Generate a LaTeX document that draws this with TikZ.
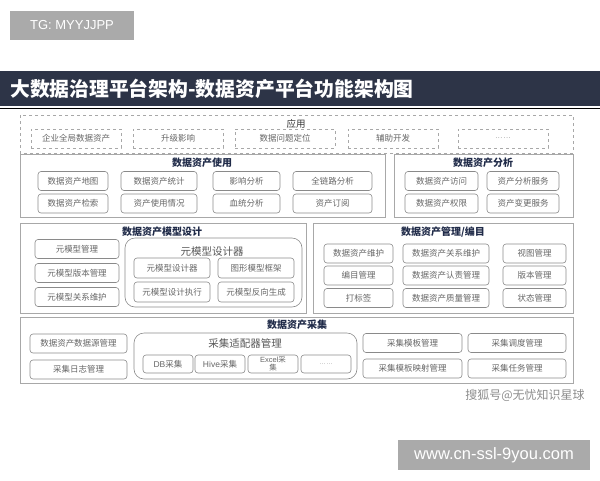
\documentclass[tikz,border=0pt]{standalone}
\usepackage{fontspec}
\setmainfont{Noto Sans CJK SC}
\newfontfamily\latinfont{Liberation Sans}
\usetikzlibrary{positioning}

\definecolor{barnavy}{HTML}{2D3447}
\definecolor{titlenavy}{HTML}{1F2A48}
\definecolor{framegray}{HTML}{A8A8A8}
\definecolor{itemgray}{HTML}{8A8A8A}
\definecolor{labelgray}{HTML}{666666}
\definecolor{markgray}{HTML}{AAAAAA}

\tikzset{
  layer/.style={draw=framegray, line width=0.7pt},
  layertitle/.style={font=\fontsize{10}{12}\selectfont\bfseries, text=titlenavy, inner sep=0pt},
  item/.style={draw=itemgray, rounded corners=3pt, line width=0.6pt, text=labelgray,
    font=\fontsize{8.5}{10}\selectfont, inner sep=0pt, minimum height=19pt},
  appitem/.style={item, dashed, draw=framegray, rounded corners=0pt},
  group/.style={draw=itemgray, rounded corners=10pt, line width=0.6pt},
  grouptitle/.style={font=\fontsize{10.5}{12}\selectfont, text=labelgray!85!black, inner sep=0pt},
  markbox/.style={fill=markgray, text=white, inner sep=0pt}
}

\begin{document}
\begin{tikzpicture}[x=1pt, y=-1pt]
  \useasboundingbox (0,0) rectangle (600,480);

  % marks
  \node[markbox, minimum width=124pt, minimum height=29pt,
    font=\latinfont\fontsize{13}{15}\selectfont] (tg) at (72,25.5) {TG: MYYJJPP};

  % title bar
  \fill[barnavy] (0,71) rectangle (600,106);
  \draw[black, line width=1.5pt] (0,108.5) -- (600,108.5);
  \node[anchor=west, text=white, font=\fontsize{19.8}{22}\selectfont\bfseries, inner sep=0pt]
    (heading) at (10,88.5) {大数据治理平台架构-数据资产平台功能架构图};

  % application
  \draw[layer, dashed] (20,115) rectangle (573,153);
  \node[font=\fontsize{9.5}{11}\selectfont, text=black!80, inner sep=0pt] (apptitle) at (296,124) {应用};
  \node[appitem, minimum width=90pt]  (app1) at (76,138.5)  {企业全局数据资产};
  \node[appitem, minimum width=90pt]  (app2) at (178,138.5) {升级影响};
  \node[appitem, minimum width=100pt] (app3) at (285,138.5) {数据问题定位};
  \node[appitem, minimum width=90pt]  (app4) at (393,138.5) {辅助开发};
  \node[appitem, minimum width=90pt, font=\fontsize{6.5}{8}\selectfont] (app5) at (503,138.5) {… …};

  % asset use
  \draw[layer] (20,154) rectangle (385,217);
  \node[layertitle] (usetitle) at (202,163) {数据资产使用};
  \node[item, minimum width=70pt] (use1) at (73,181)    {数据资产地图};
  \node[item, minimum width=76pt] (use2) at (159,181)   {数据资产统计};
  \node[item, minimum width=67pt] (use3) at (246.5,181) {影响分析};
  \node[item, minimum width=79pt] (use4) at (332.5,181) {全链路分析};
  \node[item, minimum width=70pt] (use5) at (73,203.5)    {数据资产检索};
  \node[item, minimum width=76pt] (use6) at (159,203.5)   {资产使用情况};
  \node[item, minimum width=67pt] (use7) at (246.5,203.5) {血统分析};
  \node[item, minimum width=79pt] (use8) at (332.5,203.5) {资产订阅};

  % asset analysis
  \draw[layer] (394,154) rectangle (573,217);
  \node[layertitle] (anatitle) at (483,163) {数据资产分析};
  \node[item, minimum width=73pt] (ana1) at (441.5,181)   {数据资产访问};
  \node[item, minimum width=72pt] (ana2) at (523,181)     {资产分析服务};
  \node[item, minimum width=73pt] (ana3) at (441.5,203.5) {数据资产权限};
  \node[item, minimum width=72pt] (ana4) at (523,203.5)   {资产变更服务};

  % model design
  \draw[layer] (20,223) rectangle (306,313);
  \node[layertitle] (modtitle) at (162,232) {数据资产模型设计};
  \node[item, minimum width=84pt] (mod1) at (77,249) {元模型管理};
  \node[item, minimum width=84pt] (mod2) at (77,273) {元模型版本管理};
  \node[item, minimum width=84pt] (mod3) at (77,297) {元模型关系维护};
  \draw[group] (125,238) rectangle (302,307);
  \node[grouptitle] (designer) at (212,252) {元模型设计器};
  \node[item, minimum width=76pt, minimum height=20pt] (des1) at (172,268) {元模型设计器};
  \node[item, minimum width=76pt, minimum height=20pt] (des2) at (256,268) {图形模型框架};
  \node[item, minimum width=76pt, minimum height=20pt] (des3) at (172,292) {元模型设计执行};
  \node[item, minimum width=76pt, minimum height=20pt] (des4) at (256,292) {元模型反向生成};

  % management / catalogue
  \draw[layer] (313,223) rectangle (573,313);
  \node[layertitle] (mgttitle) at (443,232) {数据资产管理/编目};
  \node[item, minimum width=69pt] (mgt1) at (358.5,253.5) {数据资产维护};
  \node[item, minimum width=86pt] (mgt2) at (446,253.5)   {数据资产关系维护};
  \node[item, minimum width=63pt] (mgt3) at (534.5,253.5) {视图管理};
  \node[item, minimum width=69pt] (mgt4) at (358.5,275.5) {编目管理};
  \node[item, minimum width=86pt] (mgt5) at (446,275.5)   {数据资产认责管理};
  \node[item, minimum width=63pt] (mgt6) at (534.5,275.5) {版本管理};
  \node[item, minimum width=69pt] (mgt7) at (358.5,298) {打标签};
  \node[item, minimum width=86pt] (mgt8) at (446,298)   {数据资产质量管理};
  \node[item, minimum width=63pt] (mgt9) at (534.5,298) {状态管理};

  % collection
  \draw[layer] (20,317) rectangle (573,383);
  \node[layertitle] (coltitle) at (297,325) {数据资产采集};
  \node[item, minimum width=97pt] (col1) at (78.5,343.5) {数据资产数据源管理};
  \node[item, minimum width=97pt] (col2) at (78.5,369.5) {采集日志管理};
  \draw[group] (134,333) rectangle (357,379);
  \node[grouptitle] (adapter) at (245,343) {采集适配器管理};
  \node[item, minimum width=50pt, minimum height=18pt] (ada1) at (168,364) {\latinfont DB{\rmfamily 采集}};
  \node[item, minimum width=50pt, minimum height=18pt] (ada2) at (220,364) {\latinfont Hive{\rmfamily 采集}};
  \node[item, minimum width=50pt, minimum height=18pt, align=center,
    font=\fontsize{7.5}{8}\selectfont] (ada3) at (273,364) {{\latinfont Excel}采\\集};
  \node[item, minimum width=50pt, minimum height=18pt, font=\fontsize{5.5}{7}\selectfont] (ada4) at (326,364) {… …};
  \node[item, minimum width=99pt] (col3) at (412.5,343)   {采集模板管理};
  \node[item, minimum width=98pt] (col4) at (517,343)     {采集调度管理};
  \node[item, minimum width=99pt] (col5) at (412.5,368.5) {采集模板映射管理};
  \node[item, minimum width=98pt] (col6) at (517,368.5)   {采集任务管理};

  % source marks
  \node[text=black!45, font=\fontsize{12}{14}\selectfont, inner sep=0pt] (source) at (525,395) {搜狐号@无忧知识星球};
  \node[markbox, minimum width=192pt, minimum height=30pt,
    font=\latinfont\fontsize{16.5}{18}\selectfont] (site) at (494,455) {www.cn-ssl-9you.com};
\end{tikzpicture}
\end{document}
